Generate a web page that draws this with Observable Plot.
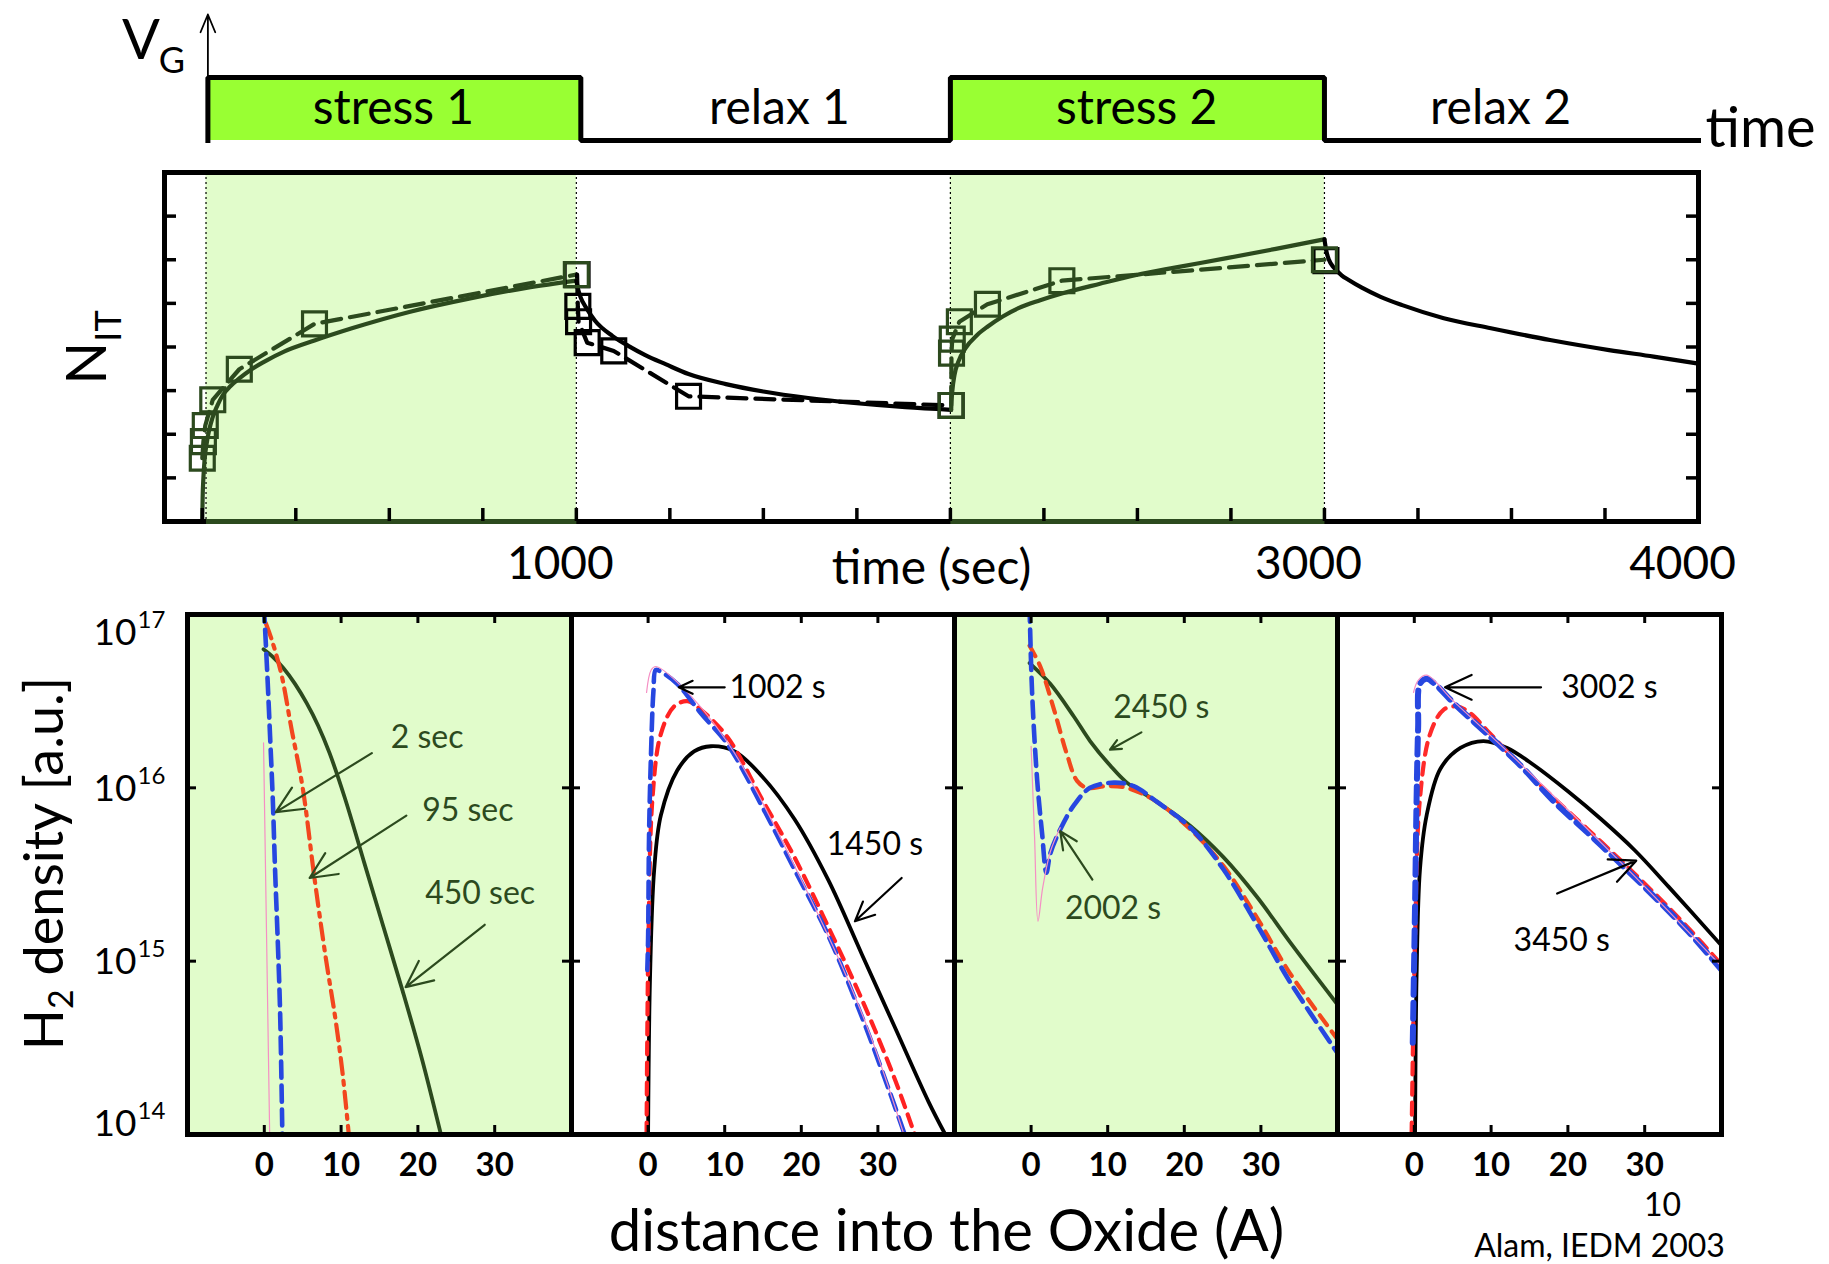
<!DOCTYPE html>
<html>
<head>
<meta charset="utf-8">
<script src="https://cdn.jsdelivr.net/npm/d3@7"></script>
<script src="https://cdn.jsdelivr.net/npm/@observablehq/plot@0.6"></script>
<style>
  body { margin: 0; background: #fff; }
  #fig { position: relative; width: 1829px; height: 1264px; overflow: hidden; background: #fff; }
  #fig svg { position: absolute; left: 0; top: 0; }
</style>
</head>
<body>
<div id="fig"></div>
<script>
// ================= DATA =================
// --- gate-voltage waveform (time in s) ---
const phaseNames  = ["stress 1", "relax 1", "stress 2", "relax 2"];
const phaseStart  = [15, 1012, 2000, 3000];
const phaseEnd    = [1012, 2000, 3000, 4000];
const phaseLevel  = [1, 0, 1, 0];
const phaseLabelT = [511, 1543, 2498, 3471];
const vgArrowTop  = 2;

// --- N_IT vs time panel ---
const nitXDomain = [-101, 4000];
const nitYDomain = [0, 8];
const nitXTicks  = [0, 250, 500, 750, 1000, 1250, 1500, 1750, 2000, 2250, 2500, 2750, 3000, 3250, 3500, 3750, 4000];
const nitXLabels = [1000, 3000, 4000];
const nitYTicks  = [1, 2, 3, 4, 5, 6, 7];
const stressShadeStart = [10, 2000];
const stressShadeEnd   = [1000, 3000];

// measured points (squares, dashed)
const s1SqT = [0, 3, 8, 28, 99, 300, 1000];
const s1SqV = [1.45, 1.83, 2.2, 2.79, 3.49, 4.53, 5.66];
const r1SqT = [1002, 1004, 1006, 1029, 1100, 1300, 2002];
const r1SqV = [5.66, 4.93, 4.58, 4.1, 3.91, 2.87, 2.66];
const s2SqT = [2002, 2003, 2005, 2024, 2099, 2298, 3000];
const s2SqV = [2.66, 3.86, 4.18, 4.58, 4.98, 5.52, 6.0];
const r2SqT = [3004];
const r2SqV = [5.98];

// model curves (solid)
const s1ModT = [0, 1, 3, 6, 11, 18, 27, 40, 55, 75, 99, 130, 165, 220, 300, 400, 556, 713, 870, 1000];
const s1ModV = [0, 0.55, 1.0, 1.4, 1.75, 2.08, 2.37, 2.65, 2.9, 3.1, 3.28, 3.48, 3.66, 3.9, 4.15, 4.43, 4.81, 5.11, 5.36, 5.52];
const r1ModT = [1000, 1004, 1011, 1027, 1050, 1097, 1140, 1183, 1240, 1300, 1400, 1500, 1620, 1750, 1880, 2002];
const r1ModV = [5.52, 5.35, 5.15, 4.89, 4.6, 4.25, 4.02, 3.82, 3.6, 3.38, 3.15, 2.98, 2.83, 2.71, 2.62, 2.56];
const s2ModT = [2002, 2003, 2005, 2011, 2021, 2040, 2071, 2100, 2140, 2182, 2240, 2300, 2400, 2497, 2600, 2735, 2870, 3000];
const s2ModV = [2.56, 2.75, 2.98, 3.36, 3.66, 3.97, 4.27, 4.47, 4.7, 4.89, 5.07, 5.23, 5.45, 5.65, 5.82, 6.03, 6.25, 6.47];
const r2ModT = [3000, 3005, 3012, 3025, 3045, 3066, 3100, 3150, 3208, 3319, 3445, 3603, 3761, 3880, 4000];
const r2ModV = [6.47, 6.2, 6.0, 5.82, 5.65, 5.53, 5.36, 5.15, 4.96, 4.66, 4.43, 4.16, 3.93, 3.78, 3.62];

// --- H2 density profiles: [distance (A), log10 density] ---
const lowerXDomain = [-10, 40];
const lowerYExpDomain = [14, 17];
const lowerXTicks = [0, 10, 20, 30];
const lowerYTickExp = [15, 16];
const lowerYLabelExp = [17, 16, 15, 14];

const p1Blue  = [[-0.05,17.05],[0.4,16.65],[0.75,16.3],[1.1,15.94],[1.4,15.53],[1.75,15.12],[2.05,14.72],[2.35,14.0]];
const p1Red   = [[0.2,16.95],[1.0,16.85],[2.25,16.65],[3.5,16.35],[5,16.0],[6.5,15.49],[8,15.02],[9.25,14.67],[10.2,14.35],[11,14.0]];
const p1Solid = [[-0.1,16.8],[1,16.76],[2.5,16.69],[4,16.6],[5.5,16.49],[7,16.36],[8.5,16.2],[10.5,15.94],[13,15.57],[15.5,15.2],[18,14.83],[20.5,14.44],[23,14.0]];
const p1Pink  = [[-0.1,16.26],[0.3,15.13],[0.7,14.0]];
const p1Labels = [["2 sec",21.2,16.29],["95 sec",26.5,15.87],["450 sec",28.1,15.39]];
const p1Arrows = [[14.0,16.2,1.5,15.86],[18.5,15.84,5.9,15.48],[28.7,15.21,18.4,14.85]];

const p2Blue  = [[-0.1,14.95],[0,15.13],[0.13,15.74],[0.35,16.15],[0.7,16.56],[1.0,16.68],[1.66,16.67],[3.8,16.6],[6.9,16.43],[10.4,16.25],[14.8,15.9],[19.1,15.53],[23.5,15.15],[27.9,14.68],[31.5,14.25],[33.5,14.0]];
const p2Red   = [[-0.2,14.0],[-0.1,14.6],[0.05,15.13],[0.57,15.94],[1.66,16.31],[3.4,16.47],[5.15,16.5],[6.9,16.45],[10.4,16.29],[14.8,15.94],[19.1,15.6],[23.5,15.2],[27.9,14.78],[32.2,14.32],[34.8,14.0]];
const p2Solid = [[0,14.0],[0.26,14.92],[0.8,15.53],[1.66,15.84],[3.8,16.1],[6,16.21],[8.2,16.24],[11.3,16.21],[14.8,16.07],[19.1,15.82],[23.5,15.47],[27.9,15.04],[32.2,14.62],[36.6,14.19],[38.8,14.0]];
const p2Pink  = [[-0.2,16.55],[0.4,16.68],[1.0,16.7],[3.8,16.61],[10.4,16.26],[19.1,15.55],[27.9,14.7],[33.4,14.0]];
const p2Labels = [["1002 s",16.9,16.58],["1450 s",29.6,15.67]];
const p2Arrows = [[10.0,16.58,4.0,16.58],[33.1,15.48,27.0,15.23]];

const p3Blue  = [[-0.2,17.05],[0.13,16.55],[0.8,16.04],[1.43,15.74],[2,15.51],[2.5,15.62],[3.8,15.76],[5.6,15.9],[7.7,16.0],[10.8,16.03],[13.4,16.01],[16.4,15.92],[20.8,15.77],[25.1,15.53],[29.5,15.21],[33.8,14.88],[40,14.47]];
const p3Red   = [[-0.2,16.82],[1.2,16.7],[3,16.45],[4.7,16.19],[6,16.04],[7.3,16.0],[9.9,16.01],[12.5,16.0],[16.4,15.92],[20.8,15.76],[25.1,15.55],[29.5,15.25],[33.8,14.93],[40,14.55]];
const p3Solid = [[-0.2,16.72],[2.5,16.6],[5.6,16.41],[7.7,16.27],[10.3,16.13],[12.5,16.03],[16.4,15.92],[20.8,15.78],[25.1,15.6],[29.5,15.37],[33.8,15.11],[40,14.75]];
const p3Pink  = [[0,16.24],[0.45,15.72],[0.9,15.23],[1.5,15.42],[2.5,15.63],[3.8,15.77]];
const p3Labels = [["2450 s",17.0,16.46],["2002 s",10.7,15.3]];
const p3Arrows = [[14.4,16.32,10.3,16.22],[8.0,15.47,3.8,15.75]];

const p4Blue  = [[-0.2,14.53],[0.1,15.33],[0.3,15.94],[0.5,16.35],[0.74,16.6],[1.6,16.63],[2.9,16.59],[5.1,16.49],[9.5,16.31],[13.8,16.13],[18.2,15.92],[22.6,15.74],[26.9,15.56],[31.3,15.37],[35.7,15.17],[40,14.95]];
const p4Red   = [[-0.35,14.0],[0.1,15.13],[0.74,15.94],[2.05,16.31],[3.8,16.45],[5.5,16.47],[7.3,16.43],[9.5,16.33],[13.8,16.13],[18.2,15.94],[22.6,15.76],[26.9,15.58],[31.3,15.39],[35.7,15.19],[40,14.98]];
const p4Solid = [[0.1,14.0],[0.3,14.92],[0.74,15.53],[1.6,15.84],[3.4,16.11],[6,16.23],[9,16.27],[12.1,16.23],[15.6,16.13],[20,15.98],[24.3,15.82],[28.7,15.64],[33.1,15.43],[40,15.09]];
const p4Pink  = [[-0.1,16.55],[0.5,16.62],[1.6,16.65],[5.1,16.5],[13.8,16.14],[26.9,15.57],[40,14.97]];
const p4Labels = [["3002 s",25.4,16.58],["3450 s",19.2,15.12]];
const p4Arrows = [[16.5,16.58,4.0,16.58],[18.6,15.39,28.9,15.58]];

const yAxisTitle = "H2 density [a.u.]";
const xAxisTitle = "distance into the Oxide (A)";
const pageNumber = "10";
const citation = "Alam, IEDM 2003";

// ================= STYLE / LAYOUT =================
const W = 1829, H = 1264;
const FONT = "Lato, 'Open Sans', 'DejaVu Sans', sans-serif";
const DARK = "#2c4a1e";
const SHADE = "#e1fccb";
const BOX = "#99ff33";
const BLUE = "#2747e0";
const PINK = "#f58fc4";
const STYLE = {fontFamily: FONT, background: "transparent", overflow: "visible"};
const fig = document.getElementById("fig");
const pts = (T, V) => T.map((t, i) => ({t, v: V[i]}));

// ================= WAVEFORM =================
const phases = phaseNames.map((name, i) => ({name, start: phaseStart[i], end: phaseEnd[i], level: phaseLevel[i], lt: phaseLabelT[i]}));
const wave = [{t: phaseStart[0], v: 0}];
phases.forEach(p => { wave.push({t: p.start, v: p.level}, {t: p.end, v: p.level}); });
const vgAnchor = [{t: phaseStart[0], v: vgArrowTop}];
const timeAnchor = [{t: phaseEnd[3], v: 0}];

fig.appendChild(Plot.plot({
  width: W, height: H, marginLeft: 164, marginRight: 131, marginTop: 14, marginBottom: H - 140,
  x: {domain: nitXDomain, axis: null},
  y: {domain: [0, vgArrowTop], axis: null},
  style: STYLE,
  marks: [
    Plot.rect(phases.filter(p => p.level === 1), {x1: "start", x2: "end", y1: () => 0, y2: () => 1, fill: BOX}),
    Plot.line(wave, {x: "t", y: "v", stroke: "black", strokeWidth: 5, strokeLinejoin: "miter", strokeLinecap: "square"}),
    Plot.arrow(vgAnchor, {x1: "t", x2: "t", y1: () => 0, y2: "v", stroke: "black", strokeWidth: 1.8, headLength: 16, headAngle: 45}),
    Plot.text(phases, {x: "lt", y: () => 0.5, text: "name", fontSize: 48, lineAnchor: "middle"}),
    Plot.text(vgAnchor, {x: "t", y: "v", text: () => "V", dx: -67, dy: 44, fontSize: 56, lineAnchor: "bottom"}),
    Plot.text(vgAnchor, {x: "t", y: "v", text: () => "G", dx: -36, dy: 58, fontSize: 36, lineAnchor: "bottom"}),
    Plot.text(timeAnchor, {x: "t", y: "v", text: () => "time", dx: 7, dy: 6, fontSize: 56, textAnchor: "start", lineAnchor: "bottom"})
  ]
}));

// ================= N_IT PANEL =================
const nitTop = 172, nitBottom = 521, nitLeft = 164, nitRight = W - 131;
const nitFH = nitBottom - nitTop, nitFW = nitRight - nitLeft;
const shade = stressShadeStart.map((s, i) => ({s, e: stressShadeEnd[i]}));
const shadeEdges = stressShadeStart.concat(stressShadeEnd);
const SQ = {symbol: "square", r: 13.5, strokeWidth: 3.2, fill: "none"};

fig.appendChild(Plot.plot({
  width: W, height: H, marginLeft: nitLeft, marginRight: W - nitRight, marginTop: nitTop, marginBottom: H - nitBottom,
  x: {domain: nitXDomain, axis: null},
  y: {domain: nitYDomain, axis: null},
  style: STYLE,
  marks: [
    Plot.rect(shade, {x1: "s", x2: "e", y1: () => nitYDomain[0], y2: () => nitYDomain[1], fill: SHADE}),
    Plot.ruleX(shadeEdges, {x: d => d, stroke: "black", strokeWidth: 1.2, strokeDasharray: "2,3"}),
    // measured (dashed + squares)
    Plot.line(pts(s1SqT, s1SqV), {x: "t", y: "v", stroke: DARK, strokeWidth: 4.2, strokeDasharray: "19,9"}),
    Plot.line(pts(r1SqT, r1SqV), {x: "t", y: "v", stroke: "black", strokeWidth: 4.2, strokeDasharray: "19,9"}),
    Plot.line(pts(s2SqT, s2SqV), {x: "t", y: "v", stroke: DARK, strokeWidth: 4.2, strokeDasharray: "19,9"}),
    // model (solid)
    Plot.line(pts(s1ModT, s1ModV), {x: "t", y: "v", stroke: DARK, strokeWidth: 4.2, curve: "monotone-x"}),
    Plot.line(pts(r1ModT, r1ModV), {x: "t", y: "v", stroke: "black", strokeWidth: 4.2, curve: "monotone-x"}),
    Plot.line(pts(s2ModT, s2ModV), {x: "t", y: "v", stroke: DARK, strokeWidth: 4.2, curve: "monotone-x"}),
    Plot.line(pts(r2ModT, r2ModV), {x: "t", y: "v", stroke: "black", strokeWidth: 4.2, curve: "monotone-x"}),
    Plot.dot(pts(r1SqT, r1SqV), {x: "t", y: "v", ...SQ, stroke: "black"}),
    Plot.dot(pts(r2SqT, r2SqV), {x: "t", y: "v", ...SQ, stroke: "black"}),
    Plot.dot(pts(s1SqT, s1SqV), {x: "t", y: "v", ...SQ, stroke: DARK}),
    Plot.dot(pts(s2SqT, s2SqV), {x: "t", y: "v", ...SQ, stroke: DARK}),
    Plot.frame({stroke: "black", strokeWidth: 5}),
    Plot.link(shade, {x1: "s", x2: "e", y1: () => nitYDomain[0], y2: () => nitYDomain[0], stroke: DARK, strokeWidth: 5}),
    // inward ticks
    Plot.ruleX(nitXTicks, {x: d => d, insetTop: nitFH - 13, stroke: "black", strokeWidth: 3.5}),
    Plot.ruleY(nitYTicks, {y: d => d, insetRight: nitFW - 12, stroke: "black", strokeWidth: 3.5}),
    Plot.ruleY(nitYTicks, {y: d => d, insetLeft: nitFW - 12, stroke: "black", strokeWidth: 3.5}),
    // labels
    Plot.text(nitXLabels, {x: d => d, frameAnchor: "bottom", dx: -16, dy: 57, lineAnchor: "bottom", fontSize: 46, text: d => String(d)}),
    Plot.text(["time (sec)"], {frameAnchor: "bottom", dy: 62, lineAnchor: "bottom", fontSize: 48}),
    Plot.text(["N"], {frameAnchor: "left", textAnchor: "middle", rotate: -90, dx: -59, dy: 16, lineAnchor: "bottom", fontSize: 56}),
    Plot.text(["IT"], {frameAnchor: "left", textAnchor: "middle", rotate: -90, dx: -44, dy: -21, lineAnchor: "bottom", fontSize: 36})
  ]
}));

// ================= H2 DENSITY PANELS =================
const lowTop = 614, lowBottom = 1134;
const lowFH = lowBottom - lowTop;
const panels = [
  {left: 187, right: 571, shaded: true, blue: p1Blue, red: p1Red, solid: p1Solid, pink: p1Pink, labels: p1Labels, arrows: p1Arrows,
   ink: DARK, redColor: "#f2461e", redDash: "16,7,4,7"},
  {left: 571, right: 954, shaded: false, blue: p2Blue, red: p2Red, solid: p2Solid, pink: p2Pink, labels: p2Labels, arrows: p2Arrows,
   ink: "black", redColor: "#ff2222", redDash: "12,8"},
  {left: 954, right: 1337, shaded: true, blue: p3Blue, red: p3Red, solid: p3Solid, pink: p3Pink, labels: p3Labels, arrows: p3Arrows,
   ink: DARK, redColor: "#f2481d", redDash: "12,8"},
  {left: 1337, right: 1721, shaded: false, blue: p4Blue, red: p4Red, solid: p4Solid, pink: p4Pink, labels: p4Labels, arrows: p4Arrows,
   ink: "black", redColor: "#ff2a2a", redDash: "12,8"}
];
const yOf = d => 10 ** d[1];

panels.forEach((p, idx) => {
  const fw = p.right - p.left;
  const marks = [];
  if (p.shaded) marks.push(Plot.frame({fill: SHADE, stroke: null}));
  marks.push(
    Plot.line(p.solid, {x: d => d[0], y: yOf, stroke: p.ink, strokeWidth: 3.8, curve: "catmull-rom", clip: true}),
    Plot.line(p.red, {x: d => d[0], y: yOf, stroke: p.redColor, strokeWidth: 4.2, strokeDasharray: p.redDash, curve: "catmull-rom", clip: true}),
    Plot.line(p.blue, {x: d => d[0], y: yOf, stroke: BLUE, strokeWidth: idx === 3 ? 6 : 4.6, strokeDasharray: "16,8", curve: "catmull-rom", clip: true}),
    Plot.line(p.pink, {x: d => d[0], y: yOf, stroke: PINK, strokeWidth: 1.2, curve: "catmull-rom", clip: true}),
    Plot.arrow(p.arrows, {x1: d => d[0], y1: d => 10 ** d[1], x2: d => d[2], y2: d => 10 ** d[3], stroke: p.ink, strokeWidth: 2.2, headLength: 20, headAngle: 50}),
    Plot.text(p.labels, {x: d => d[1], y: d => 10 ** d[2], text: d => d[0], fill: p.ink, fontSize: 32, lineAnchor: "middle"}),
    Plot.frame({stroke: "black", strokeWidth: 5}),
    Plot.ruleX(lowerXTicks, {x: d => d, insetTop: lowFH - 9, stroke: "black", strokeWidth: 3}),
    Plot.ruleX(lowerXTicks, {x: d => d, insetBottom: lowFH - 9, stroke: "black", strokeWidth: 3}),
    Plot.ruleY(lowerYTickExp, {y: d => 10 ** d, insetRight: fw - 9, stroke: "black", strokeWidth: 3}),
    Plot.ruleY(lowerYTickExp, {y: d => 10 ** d, insetLeft: fw - 9, stroke: "black", strokeWidth: 3}),
    Plot.text(lowerXTicks, {x: d => d, frameAnchor: "bottom", dy: 41, lineAnchor: "bottom", fontSize: 33, fontWeight: "bold", text: d => String(d)})
  );
  if (idx === 0) {
    lowerYLabelExp.forEach(e => {
      const dy = e === lowerYExpDomain[1] ? 30 : e === lowerYExpDomain[0] ? 1 : 13;
      marks.push(
        Plot.text([e], {y: d => 10 ** d, frameAnchor: "left", dx: -51, dy, textAnchor: "end", lineAnchor: "bottom", fontSize: 37, text: () => "10"}),
        Plot.text([e], {y: d => 10 ** d, frameAnchor: "left", dx: -50, dy: dy - 17, textAnchor: "start", lineAnchor: "bottom", fontSize: 24, text: d => String(d)})
      );
    });
    marks.push(
      Plot.text([yAxisTitle], {frameAnchor: "left", textAnchor: "middle", rotate: -90, dx: -125, dy: -11, lineAnchor: "bottom", fontSize: 54, className: "h2title"}),
      Plot.text([xAxisTitle], {frameAnchor: "bottom", dx: 567, dy: 116, lineAnchor: "bottom", fontSize: 58})
    );
  }
  if (idx === 3) {
    marks.push(
      Plot.text([pageNumber], {frameAnchor: "bottom", dx: 133, dy: 81, lineAnchor: "bottom", fontSize: 32}),
      Plot.text([citation], {frameAnchor: "bottom", dx: 70, dy: 122, lineAnchor: "bottom", fontSize: 32})
    );
  }
  const svg = Plot.plot({
    width: W, height: H, marginLeft: p.left, marginRight: W - p.right, marginTop: lowTop, marginBottom: H - lowBottom,
    x: {domain: lowerXDomain, axis: null},
    y: {type: "log", domain: [10 ** lowerYExpDomain[0], 10 ** lowerYExpDomain[1]], axis: null},
    style: STYLE,
    marks
  });
  fig.appendChild(svg);
});

// subscript "2" in the H2 axis title
document.querySelectorAll(".h2title text").forEach(t => {
  const txt = t.textContent;
  t.textContent = "";
  const ns = "http://www.w3.org/2000/svg";
  const a = document.createElementNS(ns, "tspan"); a.textContent = txt.slice(0, 1);
  const b = document.createElementNS(ns, "tspan"); b.textContent = txt.slice(1, 2);
  b.setAttribute("dy", "10"); b.setAttribute("font-size", "34");
  const c = document.createElementNS(ns, "tspan"); c.textContent = txt.slice(2);
  c.setAttribute("dy", "-10");
  t.append(a, b, c);
});
</script>
</body>
</html>
